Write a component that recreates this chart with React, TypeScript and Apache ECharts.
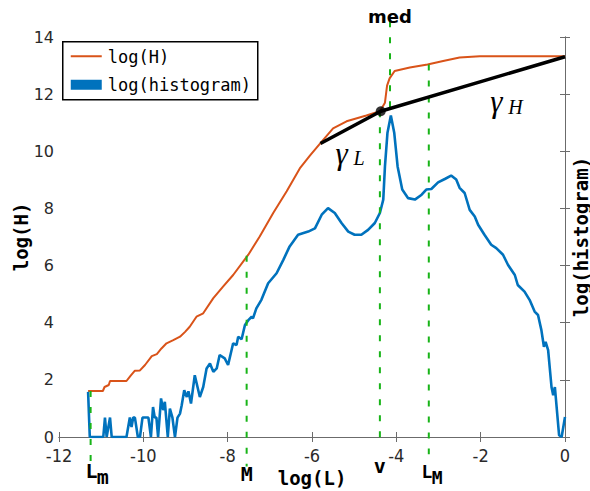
import React, { useEffect, useRef } from "react";
import * as echarts from "echarts";

// ---- axes ----
const X_MIN = -12, X_MAX = 0, X_STEP = 2;
const Y_MIN = 0, Y_MAX = 14, Y_STEP = 2;

// ---- log(H) curve (orange) ----
const hCurve: [number, number][] = [
  [-11.31, 1.61], [-10.96, 1.61], [-10.92, 1.75], [-10.82, 1.82], [-10.79, 1.96], [-10.40, 1.96],
  [-10.30, 2.15], [-10.20, 2.32], [-10.08, 2.33], [-9.96, 2.52], [-9.80, 2.83], [-9.68, 2.90],
  [-9.57, 3.10], [-9.45, 3.28], [-9.29, 3.39], [-9.13, 3.51], [-9.01, 3.68], [-8.90, 3.86],
  [-8.74, 4.21], [-8.58, 4.33], [-8.34, 4.86], [-8.11, 5.26], [-7.87, 5.67], [-7.51, 6.38],
  [-7.24, 7.02], [-6.92, 7.84], [-6.60, 8.60], [-6.29, 9.40], [-6.05, 9.85], [-5.82, 10.25],
  [-5.50, 10.80], [-5.18, 11.05], [-4.71, 11.25], [-4.39, 11.40], [-4.27, 11.70], [-4.22, 12.30],
  [-4.16, 12.55], [-4.04, 12.81], [-3.68, 12.93], [-3.26, 13.04], [-2.89, 13.16], [-2.50, 13.28],
  [-2.02, 13.33], [0, 13.33],
];

// ---- log(histogram) curve (blue) ----
const histCurve: [number, number][] = [
  [-11.31, 1.58], [-11.27, 0], [-10.95, 0], [-10.91, 0.68], [-10.87, 0], [-10.79, 0.68], [-10.75, 0],
  [-10.40, 0], [-10.32, 0.68], [-10.28, 0.35], [-10.24, 0.68], [-10.20, 0.68], [-10.13, 0], [-10.08, 0],
  [-10.02, 0.68], [-9.88, 0.68], [-9.82, 0], [-9.77, 1.05], [-9.73, 0.68], [-9.69, 0.68], [-9.65, 0],
  [-9.58, 1.35], [-9.53, 0.94], [-9.49, 1.23], [-9.42, 0], [-9.37, 0.99], [-9.31, 0.68], [-9.25, 0],
  [-9.19, 0.68], [-9.13, 0.82], [-9.09, 1.11], [-9.03, 1.64], [-8.97, 1.40], [-8.93, 1.60],
  [-8.87, 1.17], [-8.78, 2.16], [-8.66, 1.40], [-8.58, 1.75], [-8.50, 2.40], [-8.42, 2.57],
  [-8.34, 2.28], [-8.26, 2.40], [-8.19, 2.87], [-8.07, 2.75], [-7.99, 2.52], [-7.87, 3.28],
  [-7.79, 3.22], [-7.75, 3.51], [-7.67, 3.42], [-7.59, 3.92], [-7.51, 4.09], [-7.43, 4.21],
  [-7.40, 4.15], [-7.32, 4.50], [-7.20, 4.80], [-7.04, 5.38], [-6.84, 5.73], [-6.68, 6.20],
  [-6.53, 6.67], [-6.33, 7.08], [-6.09, 7.19], [-5.93, 7.30], [-5.77, 7.78], [-5.62, 8.01],
  [-5.46, 7.84], [-5.30, 7.49], [-5.14, 7.19], [-4.99, 7.08], [-4.83, 7.08], [-4.67, 7.25],
  [-4.51, 7.49], [-4.39, 7.84], [-4.31, 8.31], [-4.27, 9.47], [-4.21, 10.65], [-4.13, 11.25],
  [-4.05, 10.65], [-3.97, 9.47], [-3.86, 8.66], [-3.72, 8.36], [-3.56, 8.31], [-3.40, 8.48],
  [-3.29, 8.66], [-3.17, 8.68], [-3.01, 8.91], [-2.85, 9.03], [-2.70, 9.15], [-2.58, 9.01],
  [-2.50, 8.72], [-2.38, 8.54], [-2.26, 7.95], [-2.14, 7.72], [-2.06, 7.43], [-1.91, 7.08],
  [-1.75, 6.73], [-1.63, 6.61], [-1.47, 6.38], [-1.35, 6.02], [-1.19, 5.67], [-1.12, 5.32],
  [-0.96, 5.09], [-0.84, 4.80], [-0.72, 4.39], [-0.64, 4.27], [-0.56, 3.74], [-0.50, 3.16],
  [-0.46, 3.33], [-0.40, 3.04], [-0.32, 1.75], [-0.28, 1.46], [-0.24, 1.75], [-0.14, 0.06],
  [-0.08, 0], [0, 0.70],
];

// ---- fitted slopes gamma_L / gamma_H (black) ----
const gammaLine: [number, number][] = [[-5.8, 10.27], [-4.37, 11.40], [0, 13.31]];
const crossPoint: [number, number] = [-4.37, 11.40];

// ---- vertical marker lines (x, from y, to y) ----
const markerX = [-11.25, -7.55, -4.39, -4.15, -3.23];
const markerFrom = [1.61, 6.34, 11.40, 14.55, 13.04];
const markerTo = [-1.03, -1.03, -0.35, 11.30, -0.60];

// ---- label texts ----
const legendNames = ["log(H)", "log(histogram)"];
const axisNames = { x: "log(L)", yLeft: "log(H)", yRight: "log(histogram)" };

const ORANGE = "#D95319";
const BLUE = "#0072BD";
const GREEN = "#18b418";
const AXIS = "#6b6b6b";
const MONO = '"DejaVu Sans Mono", "Liberation Mono", monospace';
const SERIF = '"Liberation Serif", "DejaVu Serif", serif';

export default function App() {
  const ref = useRef<HTMLDivElement>(null);

  useEffect(() => {
    const chart = echarts.init(ref.current!, null, { renderer: "svg" });

    const markerSeries = markerX.map((x, i) => ({
      type: "line",
      data: [[x, markerFrom[i]], [x, markerTo[i]]],
      symbol: "none",
      clip: false,
      silent: true,
      lineStyle: { color: GREEN, width: 2, type: [6, 10] },
      z: 3,
    }));

    const axisCommon = {
      axisLine: { show: true, lineStyle: { color: AXIS, width: 1 } },
      axisTick: { show: true, inside: true, length: 5, lineStyle: { color: AXIS } },
      splitLine: { show: false },
    };

    chart.setOption({
      animation: false,
      grid: { left: 59, right: 25, top: 37, bottom: 54, containLabel: false, outerBoundsMode: "none" },
      xAxis: [
        {
          type: "value", min: X_MIN, max: X_MAX, interval: X_STEP, position: "bottom",
          ...axisCommon,
          axisLabel: {
            show: true, margin: 9, color: "#2a2a2a", fontSize: 18,
            fontFamily: '"Liberation Sans Narrow", "DejaVu Sans Condensed", "DejaVu Sans", sans-serif',
          },
          name: axisNames.x, nameLocation: "middle", nameGap: 25,
          nameTextStyle: { fontFamily: MONO, fontWeight: "bold", fontSize: 19, color: "#000" },
        },
        {
          type: "value", min: X_MIN, max: X_MAX, interval: X_STEP, position: "top",
          ...axisCommon, axisLabel: { show: false },
        },
      ],
      yAxis: [
        {
          type: "value", min: Y_MIN, max: Y_MAX, interval: Y_STEP, position: "left",
          ...axisCommon,
          axisLabel: { show: true, margin: 5, color: "#2a2a2a", fontSize: 16, fontFamily: '"DejaVu Sans", sans-serif' },
          name: axisNames.yLeft, nameLocation: "middle", nameGap: 29, nameRotate: 90, nameMoveOverlap: false,
          nameTextStyle: { fontFamily: MONO, fontWeight: "bold", fontSize: 19, color: "#000" },
        },
        {
          type: "value", min: Y_MIN, max: Y_MAX, interval: Y_STEP, position: "right",
          ...axisCommon, axisLabel: { show: false },
          name: axisNames.yRight, nameLocation: "middle", nameGap: 6, nameRotate: 90,
          nameTextStyle: { fontFamily: MONO, fontWeight: "bold", fontSize: 19, color: "#000", verticalAlign: "top" },
        },
      ],
      series: [
        {
          name: legendNames[0], type: "line", data: hCurve, symbol: "none",
          lineStyle: { color: ORANGE, width: 2 }, itemStyle: { color: ORANGE }, z: 2,
        },
        {
          name: legendNames[1], type: "line", data: histCurve, symbol: "none",
          lineStyle: { color: BLUE, width: 2.6 }, itemStyle: { color: BLUE }, z: 2,
        },
        ...markerSeries,
        {
          type: "line", data: gammaLine, symbol: "none", silent: true,
          lineStyle: { color: "#000", width: 3.5 }, z: 4,
        },
        {
          type: "scatter", data: [crossPoint], symbol: "circle", symbolSize: 10, silent: true,
          itemStyle: { color: "#000" }, z: 5,
        },
      ],
    });

    const px = (x: number, y: number) =>
      chart.convertToPixel({ xAxisIndex: 0, yAxisIndex: 0 }, [x, y]) as number[];

    const boldMono = (size: number) => `bold ${size}px ${MONO}`;
    const txt = (x: number, y: number, text: string, font: string, align = "center", fontStyle?: string) => ({
      type: "text", x, y, z: 100,
      style: { text, font: fontStyle ? `${fontStyle} ${font}` : font, fill: "#000", align, verticalAlign: "middle" },
    });

    const g: any[] = [];

    // legend box (drawn as graphics so the line/rect icons match)
    g.push({
      type: "group", left: 62, top: 41, z: 200,
      children: [
        { type: "rect", shape: { x: 0, y: 0, width: 195, height: 58 }, style: { fill: "#fff", stroke: "#000", lineWidth: 1.5 } },
        { type: "line", shape: { x1: 8, y1: 14.5, x2: 39, y2: 14.5 }, style: { stroke: ORANGE, lineWidth: 2 } },
        { type: "rect", shape: { x: 8, y: 38, width: 31, height: 10 }, style: { fill: BLUE } },
        { type: "text", x: 45, y: 15.5, style: { text: legendNames[0], font: `17px ${MONO}`, fill: "#000", align: "left", verticalAlign: "middle" } },
        { type: "text", x: 45, y: 43.5, style: { text: legendNames[1], font: `17px ${MONO}`, fill: "#000", align: "left", verticalAlign: "middle" } },
      ],
    });

    // L_m
    {
      const [lx] = px(markerX[0], 0);
      const [, y1] = px(0, -1.18);
      const [, y2] = px(0, -1.41);
      g.push(txt(lx + 1, y1, "L", boldMono(20)));
      g.push(txt(lx + 6, y2, "m", boldMono(20), "left"));
    }
    // M
    {
      const [lx] = px(markerX[1], 0);
      const [, y1] = px(0, -1.29);
      g.push(txt(lx, y1, "M", boldMono(20)));
    }
    // v
    {
      const [lx] = px(markerX[2], 0);
      const [, y1] = px(0, -1.01);
      g.push(txt(lx, y1, "v", boldMono(20)));
    }
    // med
    {
      const [lx] = px(markerX[3], 0);
      const [, y1] = px(0, 14.72);
      g.push(txt(lx, y1, "med", `bold 18px "DejaVu Sans", sans-serif`));
    }
    // L_M
    {
      const [lx] = px(markerX[4], 0);
      const [, y1] = px(0, -1.22);
      const [, y2] = px(0, -1.41);
      g.push(txt(lx - 2, y1, "L", boldMono(18)));
      g.push(txt(lx + 3, y2, "M", boldMono(18), "left"));
    }
    // gamma labels
    {
      const [gx, gy] = px(-1.77, 11.76);
      g.push(txt(gx, gy, "γ", `31px ${SERIF}`, "left", "italic"));
      g.push(txt(gx + 18, gy + 6, "H", `20px ${SERIF}`, "left", "italic"));
      const [lx, ly] = px(-5.44, 9.93);
      g.push(txt(lx, ly, "γ", `31px ${SERIF}`, "left", "italic"));
      g.push(txt(lx + 18, ly + 5, "L", `20px ${SERIF}`, "left", "italic"));
    }

    chart.setOption({ graphic: g });

    return () => chart.dispose();
  }, []);

  return (
    <div
      ref={ref}
      style={{ position: "absolute", left: 0, top: 0, width: 590, height: 491, background: "#fff" }}
    />
  );
}
